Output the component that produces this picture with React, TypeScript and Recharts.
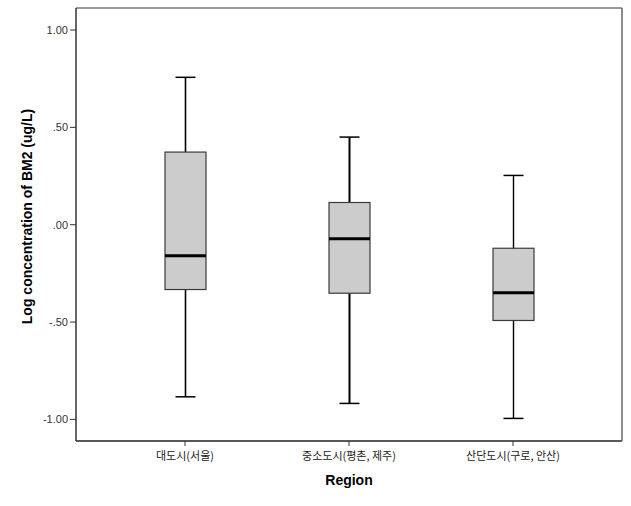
import React from "react";
import { ComposedChart, Bar, XAxis, YAxis } from "recharts";

const regions = ["대도시(서울)", "중소도시(평촌, 제주)", "산단도시(구로, 안산)"];
const mins = [-0.884, -0.918, -0.995];
const q1s = [-0.333, -0.352, -0.492];
const medians = [-0.159, -0.072, -0.35];
const q3s = [0.373, 0.114, -0.121];
const maxs = [0.757, 0.45, 0.253];
const whiskerWidths = [1.6, 2, 1.4];
const yTicks = [-1, -0.5, 0, 0.5, 1];

const data = regions.map((r, i) => ({
  region: r,
  whisker: [mins[i], maxs[i]],
  box: [q1s[i], q3s[i]],
  med: [q1s[i], medians[i]],
  idx: i,
}));

const fmt = (v: number) => {
  const s = Math.abs(v).toFixed(2).replace(/^0/, "");
  return v < 0 ? "-" + s : s;
};

const norm = (p: any) => {
  const top = Math.min(p.y, p.y + p.height);
  const bottom = Math.max(p.y, p.y + p.height);
  return { top, bottom };
};

const WhiskerShape = (p: any) => {
  const { top, bottom } = norm(p);
  const cx = p.x + p.width / 2;
  const sw = whiskerWidths[p.payload.idx] ?? 1.5;
  return (
    <g>
      <line x1={cx} x2={cx} y1={top} y2={bottom} stroke="#000" strokeWidth={sw} />
      <line x1={cx - 10} x2={cx + 10} y1={top} y2={top} stroke="#000" strokeWidth={1.5} />
      <line x1={cx - 10} x2={cx + 10} y1={bottom} y2={bottom} stroke="#000" strokeWidth={1.5} />
    </g>
  );
};

const BoxShape = (p: any) => {
  const { top, bottom } = norm(p);
  return (
    <rect x={p.x} y={top} width={p.width} height={bottom - top} fill="#cccccc" stroke="#3a3a3a" strokeWidth={1.2} />
  );
};

const MedianShape = (p: any) => {
  const { top } = norm(p);
  return <line x1={p.x} x2={p.x + p.width} y1={top} y2={top} stroke="#000" strokeWidth={3} />;
};

const XTick = (p: any) => (
  <text x={p.x} y={p.y + 12} textAnchor="middle" fontSize={11} fill="#222" fontFamily="'Noto Sans CJK KR', sans-serif">
    {p.payload.value}
  </text>
);

const YTick = (p: any) => (
  <text x={p.x} y={p.y + 4} textAnchor="end" fontSize={11} fill="#333" fontFamily="'Liberation Sans', Arial, sans-serif">
    {fmt(p.payload.value)}
  </text>
);

export default function App() {
  return (
    <div style={{ position: "absolute", left: 0, top: 0, width: 631, height: 506, background: "#fff" }}>
      <ComposedChart
        width={631}
        height={506}
        data={data}
        margin={{ top: 7, right: 8, bottom: 0, left: 0 }}
        barSize={41}
        barGap={-41}
      >
        <XAxis
          dataKey="region"
          type="category"
          padding={{ left: 27, right: 27 }}
          height={65}
          tickSize={5}
          tickLine={{ stroke: "#333" }}
          axisLine={{ stroke: "#222", strokeWidth: 1.5 }}
          tick={<XTick />}
          interval={0}
          label={{
            value: "Region",
            position: "insideBottom",
            offset: 21,
            fontSize: 14,
            fontWeight: "bold",
            fill: "#000",
            fontFamily: "'Liberation Sans', Arial, sans-serif",
          }}
        />
        <XAxis
          xAxisId="top"
          dataKey="region"
          orientation="top"
          height={1}
          padding={{ left: 27, right: 27 }}
          tick={false}
          tickLine={false}
          axisLine={{ stroke: "#777", strokeWidth: 1.5 }}
        />
        <YAxis
          type="number"
          domain={[-1.111, 1.113]}
          ticks={yTicks}
          width={76}
          tickSize={6}
          tickLine={{ stroke: "#333" }}
          axisLine={{ stroke: "#333", strokeWidth: 1.5 }}
          tick={<YTick />}
          allowDataOverflow
          label={{
            value: "Log concentration of BM2 (ug/L)",
            angle: -90,
            position: "insideLeft",
            offset: 27,
            dy: -8,
            fontSize: 14,
            fontWeight: "bold",
            fill: "#000",
            fontFamily: "'Liberation Sans', Arial, sans-serif",
            style: { textAnchor: "middle" },
          }}
        />
        <YAxis
          yAxisId="right"
          orientation="right"
          width={1}
          domain={[-1.111, 1.113]}
          tick={false}
          tickLine={false}
          axisLine={{ stroke: "#666", strokeWidth: 1.5 }}
        />
        <Bar dataKey="whisker" isAnimationActive={false} shape={<WhiskerShape />} />
        <Bar dataKey="box" isAnimationActive={false} shape={<BoxShape />} />
        <Bar dataKey="med" isAnimationActive={false} shape={<MedianShape />} />
      </ComposedChart>
    </div>
  );
}
